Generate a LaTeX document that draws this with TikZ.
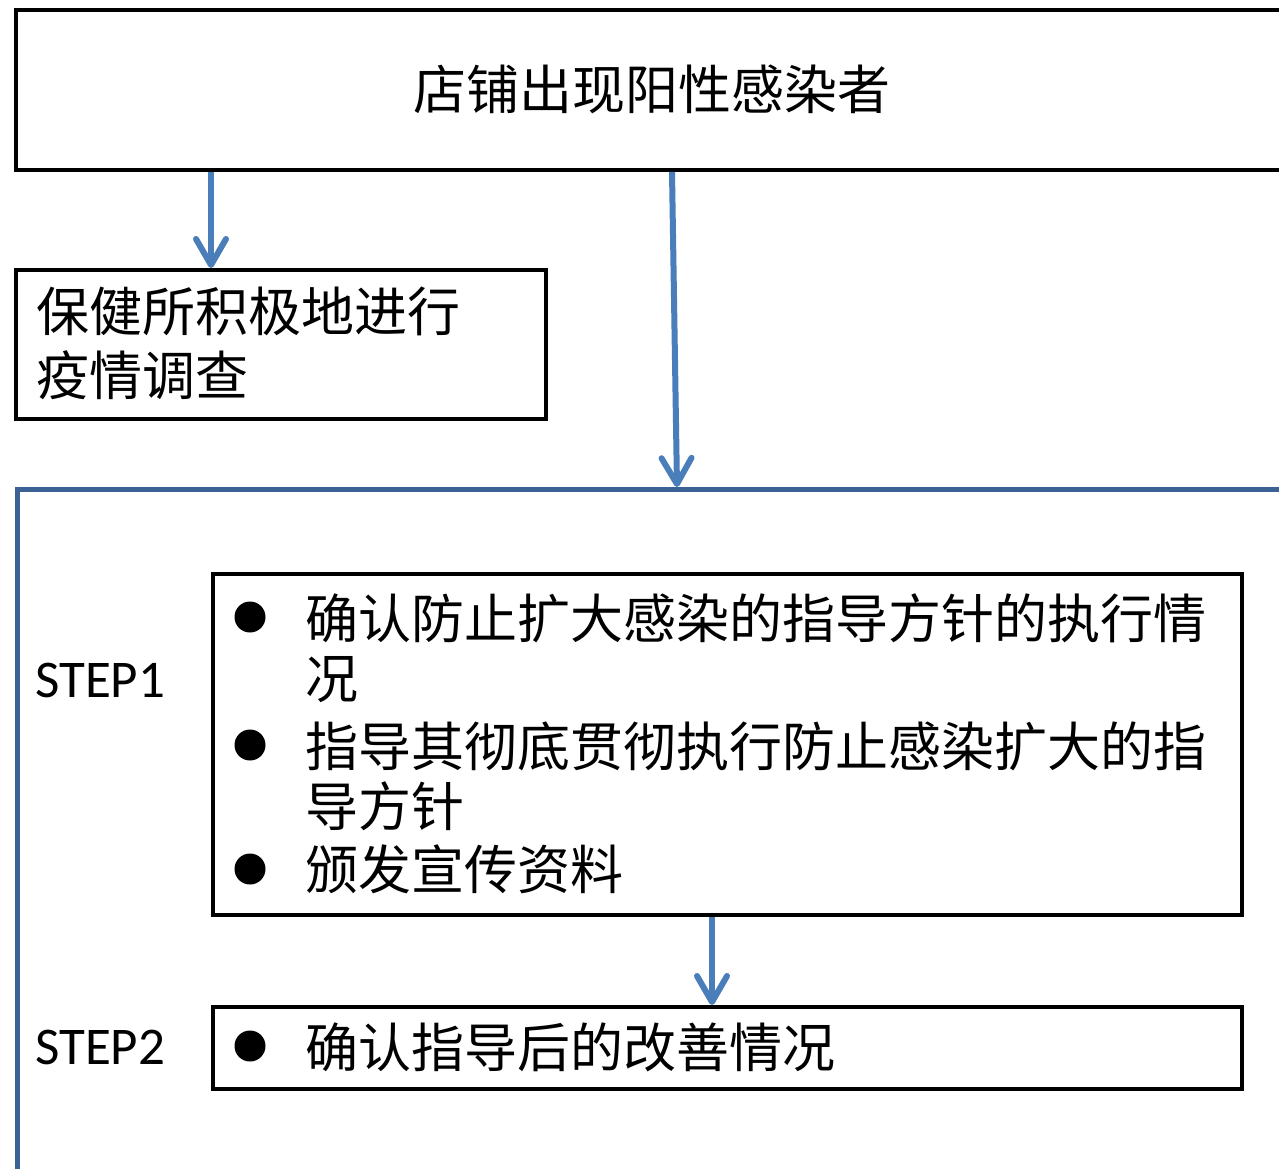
\documentclass[tikz,border=0pt]{standalone}
\usepackage{fontspec}
\newfontfamily\cjk{Noto Sans CJK SC}
\newfontfamily\latinsans{Carlito}
\usetikzlibrary{arrows.meta}
\definecolor{arrblue}{HTML}{4A7EBB}
\definecolor{frameblue}{HTML}{3C6194}
\begin{document}
\begin{tikzpicture}[x=1pt,y=-1pt,
  box/.style={draw=black, line width=3.8pt, rectangle, anchor=north west, inner sep=0pt},
  cjktext/.style={font=\cjk\fontsize{53}{60}\selectfont, inner sep=0pt, text height=40pt, text depth=0pt},
  steptext/.style={font=\latinsans\fontsize{53}{60}\selectfont, inner sep=0pt, text height=34pt, text depth=0pt, anchor=west},
  dot/.style={circle, fill=black, minimum size=31pt, inner sep=0pt},
  arr/.style={draw=arrblue, line width=6pt, -{Straight Barb[length=26pt,width=30pt,round]}}
]
\useasboundingbox (0,0) rectangle (1279,1169);
\fill[white] (0,0) rectangle (1279,1169);

% outer frame (open to the right and bottom)
\node[draw=frameblue, line width=4.5pt, rectangle, anchor=north west, inner sep=0pt,
      minimum width=1300pt, minimum height=800pt] (frame) at (15,487) {};

% top box
\node[box, cjktext, minimum width=1272pt, minimum height=160pt] (top) at (14,8) {店铺出现阳性感染者};

% investigation box
\node[box, minimum width=530pt, minimum height=149pt] (care) at (14,268) {};
\node[cjktext, anchor=west] (care1) at (36,311) {保健所积极地进行};
\node[cjktext, anchor=west] (care2) at (36,375) {疫情调查};

% step 1 box
\node[box, minimum width=1029pt, minimum height=341pt] (s1box) at (211,572) {};
\node[steptext] (step1) at (35,680) {STEP1};
\node[dot] (d1) at (250,617) {};
\node[dot] (d2) at (250,745) {};
\node[dot] (d3) at (250,869) {};
\node[cjktext, anchor=west] (i1a) at (305,618) {确认防止扩大感染的指导方针的执行情};
\node[cjktext, anchor=west] (i1b) at (305,678) {况};
\node[cjktext, anchor=west] (i2a) at (305,746) {指导其彻底贯彻执行防止感染扩大的指};
\node[cjktext, anchor=west] (i2b) at (305,806) {导方针};
\node[cjktext, anchor=west] (i3) at (305,869) {颁发宣传资料};

% step 2 box
\node[box, minimum width=1029pt, minimum height=82pt] (s2box) at (211,1005) {};
\node[steptext] (step2) at (35,1047) {STEP2};
\node[dot] (d4) at (250,1046) {};
\node[cjktext, anchor=west] (i4) at (305,1047) {确认指导后的改善情况};

% connectors
\coordinate (x1) at (211,0);
\coordinate (x2a) at (672,0);
\coordinate (x2b) at (677,0);
\coordinate (x3) at (712,0);
\draw[arr] (top.south -| x1) -- (care.north -| x1);
\draw[arr] (top.south -| x2a) -- (frame.north -| x2b);
\draw[arr] (s1box.south -| x3) -- (s2box.north -| x3);
\end{tikzpicture}
\end{document}
